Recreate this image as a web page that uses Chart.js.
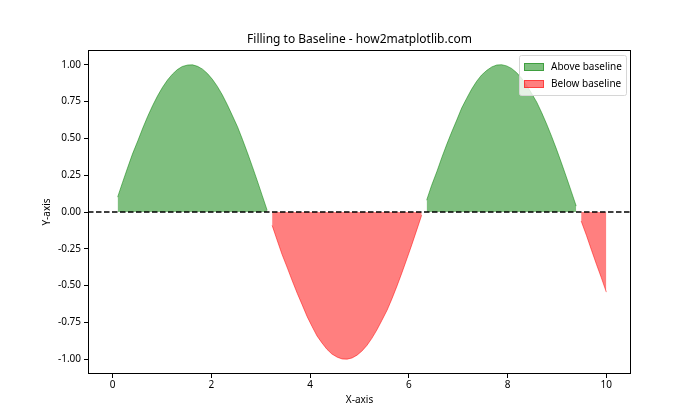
<!DOCTYPE html>
<html>
<head>
<meta charset="utf-8">
<script src="https://cdn.jsdelivr.net/npm/chart.js@4"></script>
<style>
  body { margin: 0; background: #fff; }
  #wrap { width: 700px; height: 420px; }
</style>
</head>
<body>
<div id="wrap"><canvas id="c" width="700" height="420"></canvas></div>
<script>
// x samples (0..10, 100 points) and the curve height
const xs = [
  0.00, 0.10, 0.20, 0.30, 0.40, 0.51, 0.61, 0.71, 0.81, 0.91,
  1.01, 1.11, 1.21, 1.31, 1.41, 1.52, 1.62, 1.72, 1.82, 1.92,
  2.02, 2.12, 2.22, 2.32, 2.42, 2.53, 2.63, 2.73, 2.83, 2.93,
  3.03, 3.13, 3.23, 3.33, 3.43, 3.54, 3.64, 3.74, 3.84, 3.94,
  4.04, 4.14, 4.24, 4.34, 4.44, 4.55, 4.65, 4.75, 4.85, 4.95,
  5.05, 5.15, 5.25, 5.35, 5.45, 5.56, 5.66, 5.76, 5.86, 5.96,
  6.06, 6.16, 6.26, 6.36, 6.46, 6.57, 6.67, 6.77, 6.87, 6.97,
  7.07, 7.17, 7.27, 7.37, 7.47, 7.58, 7.68, 7.78, 7.88, 7.98,
  8.08, 8.18, 8.28, 8.38, 8.48, 8.59, 8.69, 8.79, 8.89, 8.99,
  9.09, 9.19, 9.29, 9.39, 9.49, 9.60, 9.70, 9.80, 9.90, 10.00
];
const ys = [
  0.000, 0.101, 0.201, 0.298, 0.393, 0.484, 0.570, 0.650, 0.723, 0.789,
  0.847, 0.896, 0.936, 0.967, 0.988, 0.998, 0.999, 0.989, 0.970, 0.940,
  0.901, 0.853, 0.796, 0.730, 0.658, 0.578, 0.492, 0.402, 0.308, 0.211,
  0.111, 0.011, -0.091, -0.190, -0.287, -0.381, -0.469, -0.553, -0.631, -0.711,
  -0.778, -0.842, -0.889, -0.932, -0.964, -0.986, -0.998, -0.999, -0.991, -0.972,
  -0.944, -0.906, -0.858, -0.802, -0.738, -0.666, -0.587, -0.502, -0.412, -0.318,
  -0.222, -0.122, -0.021, 0.080, 0.180, 0.277, 0.372, 0.461, 0.545, 0.624,
  0.706, 0.771, 0.833, 0.886, 0.929, 0.962, 0.985, 0.998, 1.000, 0.992,
  0.975, 0.947, 0.910, 0.864, 0.809, 0.746, 0.675, 0.598, 0.515, 0.427,
  0.334, 0.238, 0.140, 0.040, -0.061, -0.161, -0.259, -0.355, -0.447, -0.544
];
const baseline = 0;
const xTicks = [0, 2, 4, 6, 8, 10];
const yTicks = [-1.00, -0.75, -0.50, -0.25, 0.00, 0.25, 0.50, 0.75, 1.00];
const seriesNames = ["Above baseline", "Below baseline"];

const FONT = "'Noto Sans', 'DejaVu Sans', sans-serif";
const greenFill = "rgba(0,128,0,0.5)";
const redFill = "rgba(255,0,0,0.5)";

const above = xs.map((x, i) => ({ x: x, y: ys[i] > baseline ? ys[i] : null }));
const below = xs.map((x, i) => ({ x: x, y: ys[i] < baseline ? ys[i] : null }));

const framePlugin = {
  id: "frame",
  afterDatasetsDraw(chart) {
    const ctx = chart.ctx;
    const a = chart.chartArea;
    const y0 = chart.scales.y.getPixelForValue(baseline);
    ctx.save();
    // dashed baseline
    ctx.strokeStyle = "#000";
    ctx.lineWidth = 1.5;
    ctx.setLineDash([5.5, 2.5]);
    ctx.beginPath();
    ctx.moveTo(a.left, y0);
    ctx.lineTo(a.right, y0);
    ctx.stroke();
    ctx.setLineDash([]);
    ctx.lineWidth = 1;
    ctx.strokeRect(a.left + 0.5, a.top + 0.5, a.right - a.left - 1, a.bottom - a.top - 1);

    // title and axis titles
    ctx.fillStyle = "#000";
    ctx.font = "12px " + FONT;
    ctx.textAlign = "center";
    ctx.textBaseline = "middle";
    ctx.fillText("Filling to Baseline - how2matplotlib.com", (a.left + a.right) / 2, 40);
    ctx.font = "10px " + FONT;
    ctx.fillText("X-axis", (a.left + a.right) / 2, 400);
    ctx.save();
    ctx.translate(47, (a.top + a.bottom) / 2);
    ctx.rotate(-Math.PI / 2);
    ctx.fillText("Y-axis", 0, 0);
    ctx.restore();

    // legend
    const lx = a.right - 112, ly = a.top + 5, lw = 107, lh = 40;
    ctx.fillStyle = "rgba(255,255,255,0.8)";
    ctx.strokeStyle = "#d6d6d6";
    ctx.beginPath();
    ctx.roundRect(lx + 0.5, ly + 0.5, lw, lh, 2);
    ctx.fill();
    ctx.stroke();
    const colors = [greenFill, redFill];
    ctx.font = "10px " + FONT;
    ctx.textAlign = "left";
    ctx.textBaseline = "middle";
    seriesNames.forEach((name, i) => {
      const cy = ly + 12 + i * 17;
      ctx.fillStyle = colors[i];
      ctx.fillRect(lx + 5, cy - 4, 20, 8);
      ctx.strokeStyle = colors[i];
      ctx.strokeRect(lx + 5.5, cy - 3.5, 19, 7);
      ctx.fillStyle = "#000";
      ctx.fillText(name, lx + 32, cy);
    });
    ctx.restore();
  }
};

new Chart(document.getElementById("c"), {
  type: "line",
  data: {
    datasets: [
      {
        label: seriesNames[0],
        data: above,
        borderColor: greenFill,
        backgroundColor: greenFill,
        borderWidth: 1,
        pointRadius: 0,
        fill: "origin",
        spanGaps: false,
        tension: 0
      },
      {
        label: seriesNames[1],
        data: below,
        borderColor: redFill,
        backgroundColor: redFill,
        borderWidth: 1,
        pointRadius: 0,
        fill: "origin",
        spanGaps: false,
        tension: 0
      }
    ]
  },
  options: {
    responsive: false,
    animation: false,
    layout: { padding: { top: 50, right: 69, left: 0, bottom: 0 } },
    plugins: {
      legend: { display: false },
      tooltip: { enabled: false },
      filler: { propagate: false }
    },
    scales: {
      x: {
        type: "linear",
        min: -0.5,
        max: 10.5,
        afterBuildTicks: s => { s.ticks = xTicks.map(v => ({ value: v })); },
        afterFit: s => { s.height = 46; },
        grid: { drawOnChartArea: false, drawTicks: true, tickLength: 4, color: "#000" },
        border: { display: false },
        ticks: { color: "#000", font: { family: FONT, size: 10 }, padding: 1, maxRotation: 0 }
      },
      y: {
        min: -1.1,
        max: 1.1,
        afterBuildTicks: s => { s.ticks = yTicks.map(v => ({ value: v })); },
        afterFit: s => { s.width = 88; },
        grid: { drawOnChartArea: false, drawTicks: true, tickLength: 4, color: "#000" },
        border: { display: false },
        ticks: { color: "#000", font: { family: FONT, size: 10 }, padding: 3, callback: v => v.toFixed(2) }
      }
    }
  },
  plugins: [framePlugin]
});
</script>
</body>
</html>
